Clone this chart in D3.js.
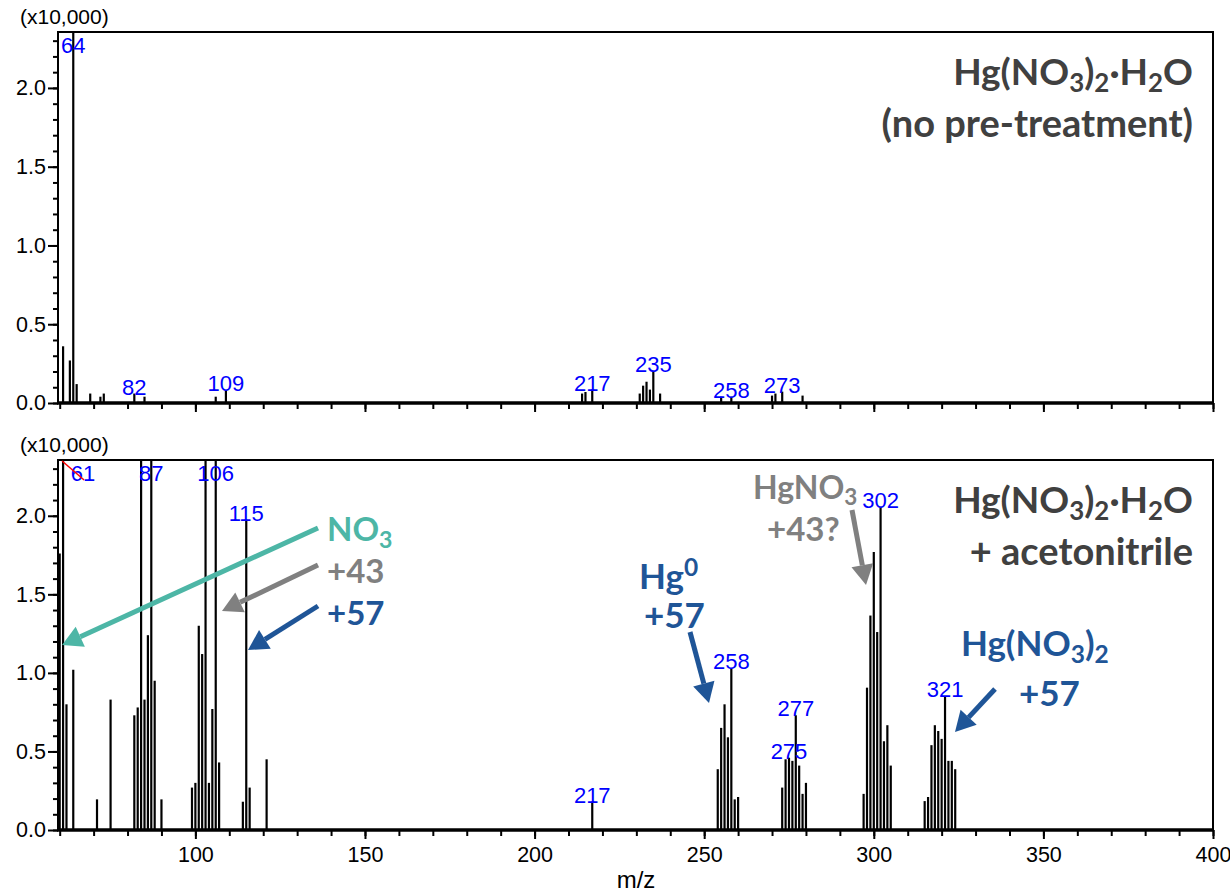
<!DOCTYPE html>
<html>
<head>
<meta charset="utf-8">
<script src="https://cdn.jsdelivr.net/npm/d3@7"></script>
<style>
  html, body { margin: 0; padding: 0; background: #fff; }
  svg { display: block; }
</style>
</head>
<body>
<svg id="chart" width="1230" height="895"></svg>
<script>
// ---------------- DATA ----------------
// Top spectrum: Hg(NO3)2·H2O (no pre-treatment); intensity in units of 10,000
const topMz  = [61, 63, 64, 65, 69, 72, 73, 82, 85, 106, 109, 214, 215, 217, 231, 232, 233, 234, 235, 237, 255, 258, 270, 271, 273, 279];
const topInt = [0.36, 0.27, 2.80, 0.12, 0.06, 0.04, 0.06, 0.06, 0.04, 0.04, 0.08, 0.06, 0.07, 0.085, 0.06, 0.11, 0.135, 0.085, 0.205, 0.06, 0.04, 0.04, 0.047, 0.06, 0.072, 0.047];
const topLabels = [64, 82, 109, 217, 235, 258, 273];

// Bottom spectrum: Hg(NO3)2·H2O + acetonitrile
const botMz  = [60, 61, 62, 64, 71, 75, 82, 83, 84, 85, 86, 87, 88, 90,
                99, 100, 101, 102, 103, 104, 105, 106, 107, 114, 115, 116, 121, 217,
                254, 255, 256, 257, 258, 259, 260,
                273, 274, 275, 276, 277, 278, 279, 280,
                297, 298, 299, 300, 301, 302, 303, 304, 305,
                315, 316, 317, 318, 319, 320, 321, 322, 323, 324];
const botInt = [1.76, 2.90, 0.80, 1.02, 0.195, 0.83, 0.73, 0.78, 2.60, 0.83, 1.24, 2.70, 0.95, 0.195,
                0.27, 0.30, 1.30, 1.12, 2.60, 0.30, 0.77, 2.60, 0.43, 0.18, 1.97, 0.27, 0.45, 0.18,
                0.387, 0.65, 0.80, 0.59, 1.03, 0.195, 0.21,
                0.27, 0.45, 0.46, 0.44, 0.73, 0.41, 0.23, 0.30,
                0.23, 0.906, 1.365, 1.77, 1.26, 2.057, 0.565, 0.667, 0.41,
                0.184, 0.21, 0.54, 0.667, 0.63, 0.58, 0.85, 0.44, 0.44, 0.387];
const botLabels = [61, 87, 106, 115, 217, 258, 275, 277, 302, 321];

const xTickLabels = [100, 150, 200, 250, 300, 350, 400];
const yTickLabels = [0.0, 0.5, 1.0, 1.5, 2.0];
const xDomain = [59.5, 400];
const yMax = 2.355;

// ---------------- LAYOUT ----------------
const svg = d3.select("#chart");
svg.append("rect").attr("width", 1230).attr("height", 895).attr("fill", "#fff");

const L = 58, R = 1213;
const panels = [
  { top: 32,  bottom: 403, mz: topMz, int: topInt, labels: topLabels, showX: false, title: ["Hg(NO3)2·H2O", "(no pre-treatment)"] },
  { top: 460, bottom: 830, mz: botMz, int: botInt, labels: botLabels, showX: true,  title: ["Hg(NO3)2·H2O", "+ acetonitrile"] }
];

const x = d3.scaleLinear().domain(xDomain).range([L, R]);
const FONT = "'Liberation Sans', Arial, sans-serif";
const AFONT = "Lato, 'Open Sans', sans-serif";

function richText(g, xPos, yPos, parts, opts) {
  const t = g.append("text")
    .attr("x", xPos).attr("y", yPos)
    .attr("font-family", AFONT).attr("font-weight", "bold")
    .attr("font-size", opts.size).attr("fill", opts.color)
    .attr("text-anchor", opts.anchor || "start");
  let shift = 0;
  parts.forEach(p => {
    let target = 0, fs = opts.size;
    if (p.sub) { target = opts.size * 0.2; fs = opts.size * 0.7; }
    if (p.sup) { target = -opts.size * 0.38; fs = opts.size * 0.7; }
    t.append("tspan").attr("dy", target - shift).attr("font-size", fs).text(p.t);
    shift = target;
  });
  return t;
}

function formulaParts(s) {
  // digits following a letter or ")" become subscripts
  const parts = [];
  for (let i = 0; i < s.length; i++) {
    const c = s[i];
    const sub = /[0-9]/.test(c) && i > 0 && /[A-Za-z)]/.test(s[i - 1]);
    if (parts.length && parts[parts.length - 1].sub === sub) parts[parts.length - 1].t += c;
    else parts.push({ t: c, sub: sub });
  }
  return parts;
}

panels.forEach((p, pi) => {
  const y = d3.scaleLinear().domain([0, yMax]).range([p.bottom, p.top]);
  const g = svg.append("g");

  // frame
  g.append("path")
    .attr("d", `M${L},${p.bottom} V${p.top} H${R} V${p.bottom}`)
    .attr("fill", "none").attr("stroke", "#000").attr("stroke-width", 2);

  // bars
  const data = p.mz.map((m, i) => ({ mz: m, v: p.int[i] }));
  g.append("g").selectAll("line").data(data).join("line")
    .attr("x1", d => x(d.mz)).attr("x2", d => x(d.mz))
    .attr("y1", y(0)).attr("y2", d => y(Math.min(d.v, yMax)))
    .attr("stroke", "#000").attr("stroke-width", 2.2);

  // peak labels
  const lab = data.filter(d => p.labels.includes(d.mz));
  g.append("g").selectAll("text").data(lab).join("text")
    .attr("x", d => x(d.mz) + (d.v > yMax && pi === 1 && d.mz === 61 ? 20 : 0))
    .attr("y", d => d.v > yMax ? p.top + 21 : y(d.v) + 1)
    .attr("text-anchor", "middle")
    .attr("font-family", FONT).attr("font-size", 22).attr("fill", "#0000ff")
    .text(d => d.mz);

  // red overflow marker on first clipped peak of bottom panel
  if (pi === 1) {
    const x0 = x(61);
    g.append("line").attr("x1", x0 - 1).attr("y1", p.top + 1).attr("x2", x0 + 21).attr("y2", p.top + 20)
      .attr("stroke", "#ff0000").attr("stroke-width", 1.5);
  }

  // y axis: minor + major
  const yMinor = d3.range(0, yMax, 0.1).map(v => +v.toFixed(1));
  g.append("g").attr("transform", `translate(${L},0)`)
    .call(d3.axisLeft(y).tickValues(yMinor).tickSize(5).tickFormat(""))
    .call(a => a.select(".domain").remove())
    .call(a => a.selectAll("line").attr("stroke-width", 2));
  g.append("g").attr("transform", `translate(${L},0)`)
    .call(d3.axisLeft(y).tickValues(yTickLabels).tickSize(10).tickPadding(2).tickFormat(d3.format(".1f")))
    .call(a => a.select(".domain").remove())
    .call(a => a.selectAll("line").attr("stroke-width", 2))
    .call(a => a.selectAll("text").attr("font-family", FONT).attr("font-size", 21.5).attr("fill", "#000"));

  // x axis: minor + major
  const xMinor = d3.range(60, 401, 10);
  g.append("g").attr("transform", `translate(0,${p.bottom})`)
    .call(d3.axisBottom(x).tickValues(xMinor).tickSize(6).tickFormat(""))
    .call(a => a.select(".domain").remove())
    .call(a => a.selectAll("line").attr("stroke-width", 2));
  g.append("g").attr("transform", `translate(0,${p.bottom})`)
    .call(d3.axisBottom(x).tickValues(xTickLabels).tickSize(9).tickPadding(8)
      .tickFormat(p.showX ? d3.format("d") : ""))
    .call(a => a.select(".domain").remove())
    .call(a => a.selectAll("line").attr("stroke-width", 2))
    .call(a => a.selectAll("text").attr("font-family", FONT).attr("font-size", 21.5).attr("fill", "#000"));

  // thick baseline
  g.append("line").attr("x1", L - 1).attr("x2", R + 1).attr("y1", p.bottom).attr("y2", p.bottom)
    .attr("stroke", "#000").attr("stroke-width", 3.5);

  // multiplier label
  g.append("text").attr("x", 20).attr("y", p.top - 8)
    .attr("font-family", FONT).attr("font-size", 21).attr("fill", "#000")
    .text("(x10,000)");

  // title
  richText(g, 1193, p.top + 53, formulaParts(p.title[0]), { size: 37, color: "#404040", anchor: "end" });
  richText(g, 1193, p.top + 105, [{ t: p.title[1] }], { size: 38, color: "#404040", anchor: "end" });
});

// x axis title
svg.append("text").attr("x", 636).attr("y", 888).attr("text-anchor", "middle")
  .attr("font-family", FONT).attr("font-size", 24).attr("fill", "#000").text("m/z");

// ---------------- ANNOTATIONS (bottom panel) ----------------
const C = { teal: "#4db6a6", gray: "#808080", blue: "#1f5597" };
const ann = svg.append("g");

function arrow(x1, y1, x2, y2, color, w) {
  const ang = Math.atan2(y2 - y1, x2 - x1);
  const hl = 20, hw = 11;
  const bx = x2 - hl * Math.cos(ang), by = y2 - hl * Math.sin(ang);
  ann.append("line").attr("x1", x1).attr("y1", y1).attr("x2", bx).attr("y2", by)
    .attr("stroke", color).attr("stroke-width", w);
  const px = -Math.sin(ang), py = Math.cos(ang);
  ann.append("path")
    .attr("d", `M${x2},${y2} L${bx + px * hw},${by + py * hw} L${bx - px * hw},${by - py * hw} Z`)
    .attr("fill", color);
}

// NO3 / +43 / +57 group
richText(ann, 327, 541, [{ t: "NO" }, { t: "3", sub: true }], { size: 33, color: C.teal });
richText(ann, 327, 583, [{ t: "+43" }], { size: 33, color: C.gray });
richText(ann, 327, 625, [{ t: "+57" }], { size: 33, color: C.blue });
arrow(318, 528, x(61) - 1, 645, C.teal, 5);
arrow(318, 565, 222, 611, C.gray, 5);
arrow(318, 606, 248, 650, C.blue, 5);

// Hg0 +57
richText(ann, 639, 589, [{ t: "Hg" }, { t: "0", sup: true }], { size: 35, color: C.blue });
richText(ann, 644, 628, [{ t: "+57" }], { size: 35, color: C.blue });
arrow(690, 632, 709, 703, C.blue, 5);

// HgNO3 +43?
richText(ann, 753, 499, [{ t: "HgNO" }, { t: "3", sub: true }], { size: 32, color: C.gray });
richText(ann, 767, 541, [{ t: "+43?" }], { size: 33, color: C.gray });
arrow(852, 510, 866, 585, C.gray, 5);

// Hg(NO3)2 +57
richText(ann, 961, 656, formulaParts("Hg(NO3)2"), { size: 35, color: C.blue });
richText(ann, 1019, 706, [{ t: "+57" }], { size: 35, color: C.blue });
arrow(995, 689, 955, 732, C.blue, 5);
</script>
</body>
</html>
